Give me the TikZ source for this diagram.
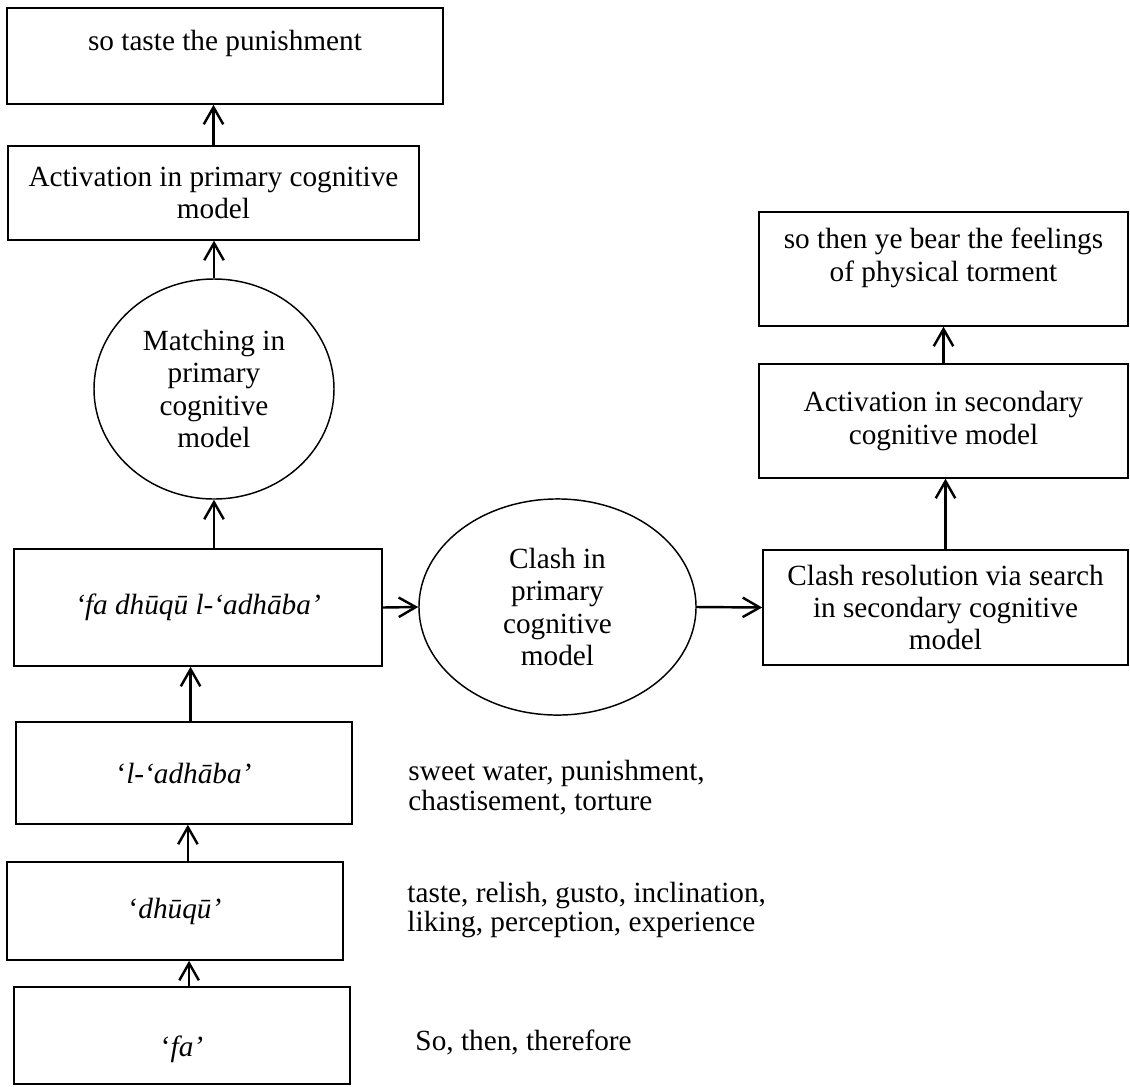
\documentclass[tikz,border=0pt]{standalone}
\usepackage{fontspec}
\setmainfont{Liberation Serif}
\usetikzlibrary{arrows.meta,shapes.geometric}

\begin{document}
\begin{tikzpicture}[x=0.41pt,y=-0.41pt,
	every node/.style={font=\fontsize{12}{13.3}\selectfont},
	box/.style={draw,line width=0.6pt,rectangle,align=center,inner sep=0pt},
	oval/.style={draw,line width=0.6pt,ellipse,align=center,inner sep=0pt},
	side/.style={anchor=west,align=left,inner sep=0pt,font=\fontsize{12}{12.2}\selectfont},
	arr/.style={line width=1pt,-{Straight Barb[length=7pt,width=8pt]}}]
		\useasboundingbox (0,0) rectangle (1130,1086);
		% left column
		\node[box,minimum width=178.8pt,minimum height=39.4pt,text depth=13.2pt] (taste) at (225,56) {so taste the punishment};
		\node[box,minimum width=168.5pt,minimum height=38.5pt] (actP) at (213.5,193) {Activation in primary cognitive\\model};
		\node[oval,minimum width=98.4pt,minimum height=90.2pt] (matchE) at (214,389) {Matching in\\primary\\cognitive\\model};
		\node[box,minimum width=150.9pt,minimum height=48pt] (fadh) at (198,607.5) {\itshape ‘fa dhūqū l-‘adhāba’};
		\node[box,minimum width=137.8pt,minimum height=41.8pt] (ladh) at (184,773) {‘{\itshape l-‘adhāba’}};
		\node[box,minimum width=137.8pt,minimum height=40.2pt] (dhuq) at (175,911) {‘{\itshape dhūqū’}};
		\node[box,minimum width=137.8pt,minimum height=39.8pt,text height=19.6pt] (fa) at (182,1035.5) {‘{\itshape fa’}};
		% middle and right column
		\node[oval,minimum width=113.6pt,minimum height=88.6pt] (clashE) at (557.5,607) {Clash in\\primary\\cognitive\\model};
		\node[box,minimum width=149.7pt,minimum height=47.2pt] (clashR) at (945.5,607.5) {Clash resolution via search\\in secondary cognitive\\model};
		\node[box,minimum width=151.3pt,minimum height=46.7pt] (actS) at (943.5,421) {Activation in secondary\\cognitive model};
		\node[box,minimum width=151.3pt,minimum height=46.7pt,text depth=11.6pt] (bear) at (943.5,269) {so then ye bear the feelings\\of physical torment};
		% meanings
		\node[side] (meanL) at (408,787.5) {sweet water, punishment,\\chastisement, torture};
		\node[side] (meanD) at (407,910) {taste, relish, gusto, inclination,\\liking, perception, experience};
		\node[side] (meanF) at (415,1042) {So, then, therefore};
		% arrows
		\draw[arr] (actP.north) -- (actP.north |- taste.south);
		\draw[arr] (matchE.north) -- (matchE.north |- actP.south);
		\draw[arr] (matchE.south |- fadh.north) -- (matchE.south);
		\draw[arr] ([xshift=2.7pt]ladh.north) -- ([xshift=2.7pt]ladh.north |- fadh.south);
		\draw[arr] ([xshift=1.6pt]ladh.south |- dhuq.north) -- ([xshift=1.6pt]ladh.south);
		\draw[arr] ([xshift=2.9pt]fa.north) -- ([xshift=2.9pt]fa.north |- dhuq.south);
		\draw[arr] (fadh.east) -- (clashE.west);
		\draw[arr] (clashE.east) -- (clashR.west);
		\draw[arr] (clashR.north) -- (clashR.north |- actS.south);
		\draw[arr] (actS.north) -- (actS.north |- bear.south);
	\end{tikzpicture}
\end{document}
